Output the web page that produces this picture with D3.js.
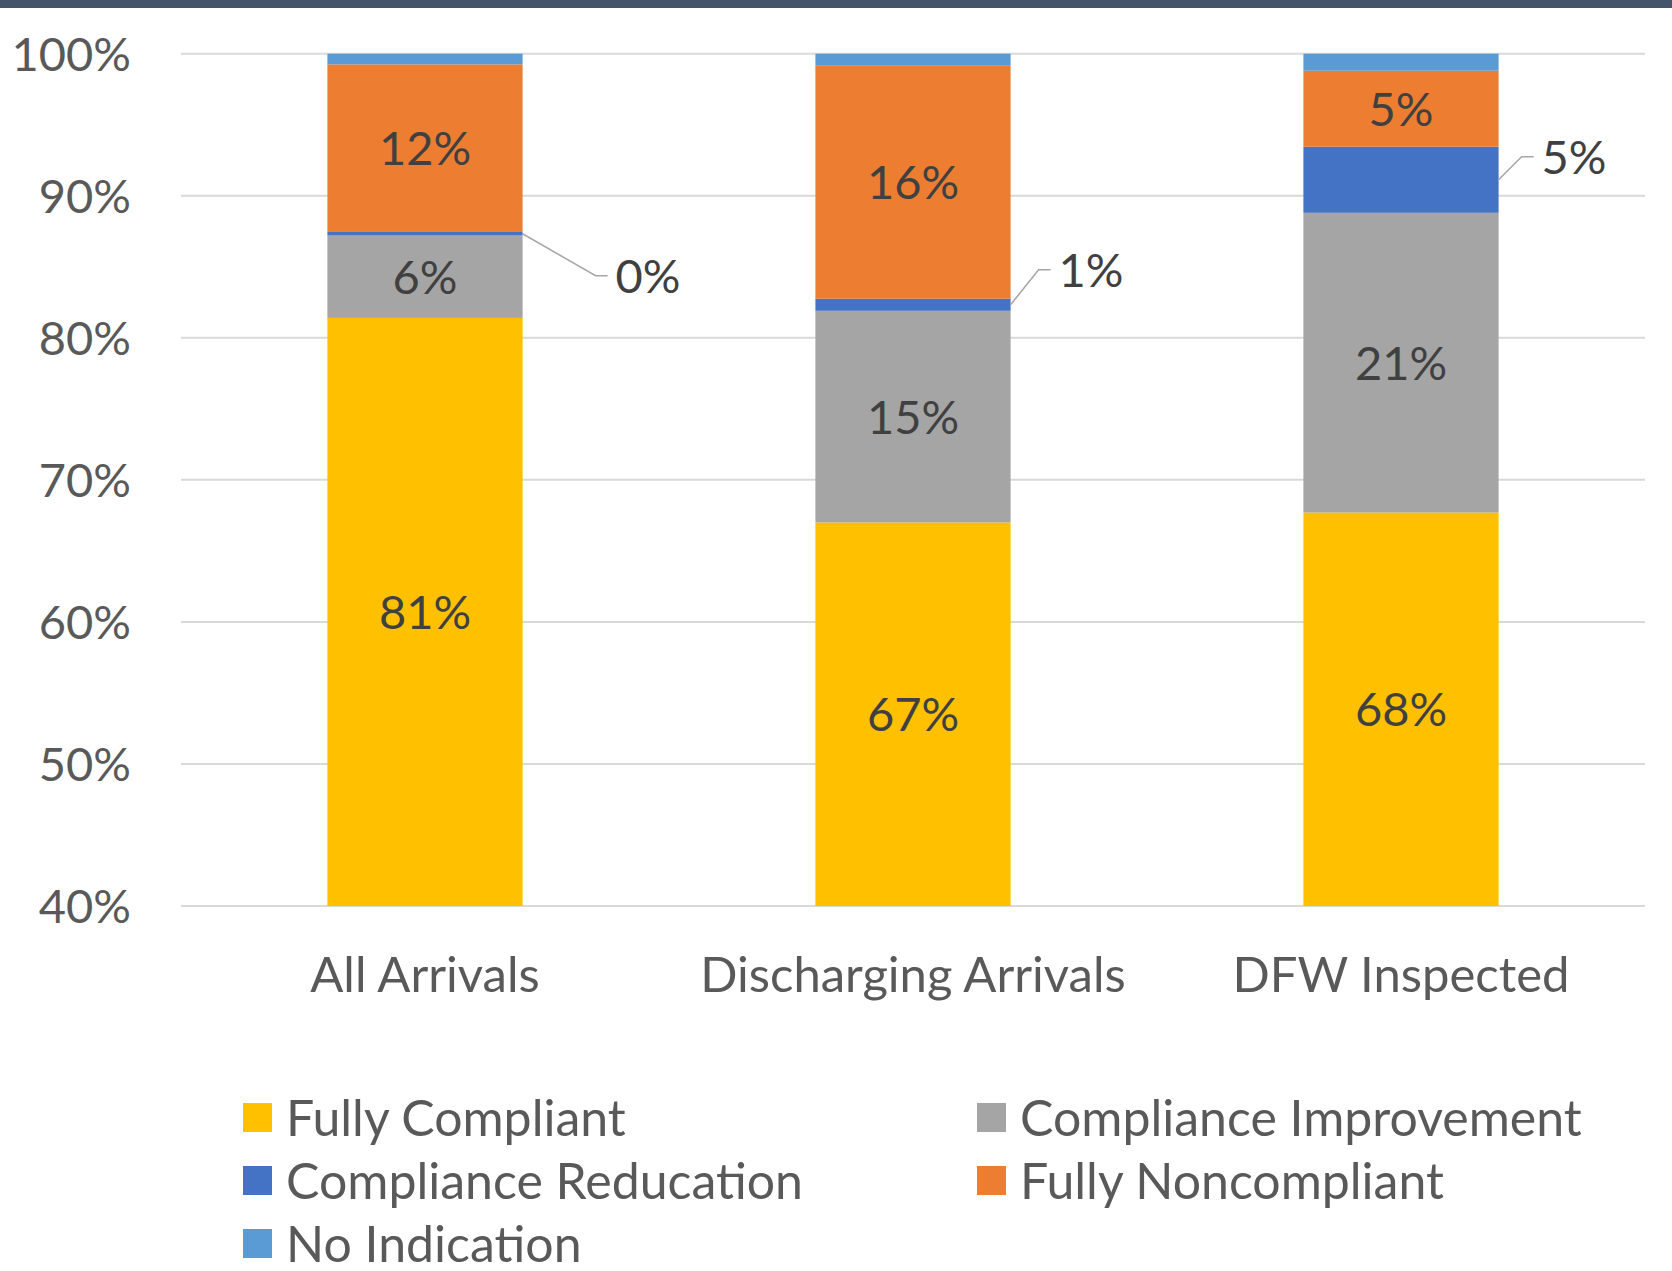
<!DOCTYPE html>
<html>
<head>
<meta charset="utf-8">
<script src="https://cdn.jsdelivr.net/npm/d3@7"></script>
<style>
  body { margin: 0; background: #fff; }
  text { font-family: Lato, "Open Sans", sans-serif; }
</style>
</head>
<body>
<script>
// chart values (percent)
const categories = ["All Arrivals", "Discharging Arrivals", "DFW Inspected"];
const seriesNames = ["Fully Compliant", "Compliance Improvement", "Compliance Reducation", "Fully Noncompliant", "No Indication"];
const fullyCompliant = [81.4, 67.0, 67.7];
const complianceImprovement = [5.8, 14.9, 21.1];
const complianceReduction = [0.25, 0.85, 4.65];
const fullyNoncompliant = [11.8, 16.4, 5.35];
const noIndication = [0.75, 0.85, 1.2];
const yTicks = [40, 50, 60, 70, 80, 90, 100];

const colors = ["#FFC000", "#A5A5A5", "#4472C4", "#ED7D31", "#5B9BD5"];
// leader line elbows for the small "Compliance Reducation" labels
const calloutOffsets = [[73, 42], [28, -35], [23, -23]];

const width = 1672,
      height = 1271,
      fontSize = 47;

const rows = categories.map((c, i) => ({
  category: c,
  "Fully Compliant": fullyCompliant[i],
  "Compliance Improvement": complianceImprovement[i],
  "Compliance Reducation": complianceReduction[i],
  "Fully Noncompliant": fullyNoncompliant[i],
  "No Indication": noIndication[i]
}));

const stack = d3.stack().keys(seriesNames)(rows);

const svg = d3.select("body")
    .append("svg")
    .attr("width", width)
    .attr("height", height);

// dark strip across the top
svg.append("rect")
    .attr("x", 0).attr("y", 0)
    .attr("width", width).attr("height", 8)
    .attr("fill", "#44546A");

const x = d3.scaleBand()
    .domain(categories)
    .range([181, 1645])
    .paddingInner(0.6)
    .paddingOuter(0.3);

const y = d3.scaleLinear()
    .domain([40, 100])
    .range([906, 53.7])
    .clamp(true);

// gridlines
svg.append("g")
    .selectAll("line")
    .data(yTicks)
    .enter().append("line")
    .attr("x1", 181)
    .attr("x2", 1645)
    .attr("y1", d => y(d))
    .attr("y2", d => y(d))
    .attr("stroke", "#D9D9D9")
    .attr("stroke-width", 2);

// y tick labels
svg.append("g")
    .selectAll("text")
    .data(yTicks)
    .enter().append("text")
    .attr("x", 131)
    .attr("y", d => y(d))
    .attr("dy", "0.36em")
    .attr("text-anchor", "end")
    .attr("font-size", fontSize)
    .attr("fill", "#595959")
    .text(d => d + "%");

// stacked bars
const layers = svg.append("g")
    .selectAll("g")
    .data(stack)
    .enter().append("g")
    .attr("fill", (d, i) => colors[i]);

layers.selectAll("rect")
    .data(d => d)
    .enter().append("rect")
    .attr("x", d => x(d.data.category))
    .attr("width", x.bandwidth())
    .attr("y", d => y(d[1]))
    .attr("height", d => y(d[0]) - y(d[1]));

// labels inside the big segments
const labelled = [0, 1, 3];
labelled.forEach(k => {
  svg.append("g")
      .selectAll("text")
      .data(stack[k])
      .enter().append("text")
      .attr("x", d => x(d.data.category) + x.bandwidth() / 2)
      .attr("y", d => (y(d[0]) + y(d[1])) / 2)
      .attr("dy", "0.36em")
      .attr("text-anchor", "middle")
      .attr("font-size", fontSize)
      .attr("fill", "#404040")
      .text(d => Math.round(d[1] - d[0]) + "%");
});

// callouts for the thin segments
const callouts = svg.append("g");
stack[2].forEach((d, i) => {
  const x0 = x(d.data.category) + x.bandwidth(),
        y0 = (y(d[0]) + y(d[1])) / 2,
        ex = x0 + calloutOffsets[i][0],
        ey = y0 + calloutOffsets[i][1];
  callouts.append("path")
      .attr("d", `M${x0},${y0}L${ex},${ey}H${ex + 12}`)
      .attr("fill", "none")
      .attr("stroke", "#A6A6A6")
      .attr("stroke-width", 1.5);
  callouts.append("text")
      .attr("x", ex + 20)
      .attr("y", ey)
      .attr("dy", "0.36em")
      .attr("font-size", fontSize)
      .attr("fill", "#404040")
      .text(Math.round(d[1] - d[0]) + "%");
});

// category labels
svg.append("g")
    .selectAll("text")
    .data(categories)
    .enter().append("text")
    .attr("x", d => x(d) + x.bandwidth() / 2)
    .attr("y", 992)
    .attr("text-anchor", "middle")
    .attr("font-size", 49)
    .attr("fill", "#595959")
    .text(d => d);

// legend, two columns filled row by row
const legend = svg.append("g")
    .selectAll("g")
    .data(seriesNames)
    .enter().append("g")
    .attr("transform", (d, i) => `translate(${i % 2 ? 977 : 243},${1117.5 + Math.floor(i / 2) * 63})`);

legend.append("rect")
    .attr("x", 0)
    .attr("y", -14.5)
    .attr("width", 29)
    .attr("height", 29)
    .attr("fill", (d, i) => colors[i]);

legend.append("text")
    .attr("x", 43)
    .attr("y", 0)
    .attr("dy", "0.36em")
    .attr("font-size", 50)
    .attr("fill", "#595959")
    .text(d => d);
</script>
</body>
</html>
